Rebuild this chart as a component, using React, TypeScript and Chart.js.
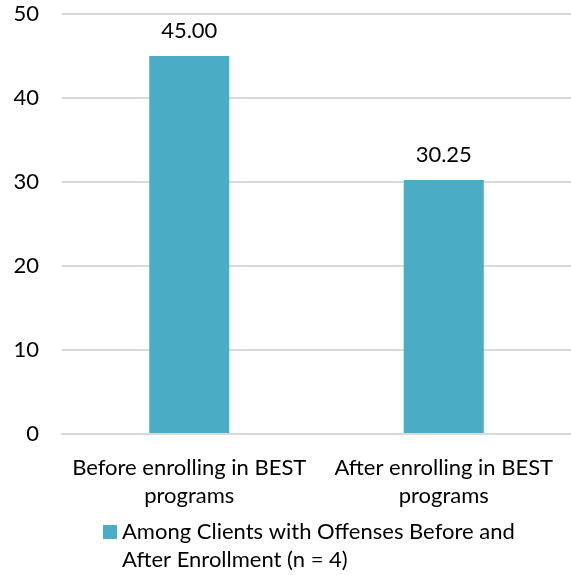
import React, { useEffect, useRef } from "react";
import { Chart, registerables } from "chart.js";

Chart.register(...registerables);

const categories: string[][] = [
  ["Before enrolling in BEST", "programs"],
  ["After enrolling in BEST", "programs"],
];
const values: number[] = [45.0, 30.25];
const seriesLabel: string[] = ["Among Clients with Offenses Before and", "After Enrollment (n = 4)"];
const yTicks: number[] = [0, 10, 20, 30, 40, 50];

const FONT = "Lato, 'Open Sans', sans-serif";
const FONT_SIZE = 22;
const BAR_COLOR = "#4BACC6";
const TEXT_COLOR = "#000000";

const dataLabelPlugin = {
  id: "dataLabels",
  afterDatasetsDraw(chart: any) {
    const ctx = chart.ctx;
    const meta = chart.getDatasetMeta(0);
    ctx.save();
    ctx.font = `${FONT_SIZE}px ${FONT}`;
    ctx.fillStyle = TEXT_COLOR;
    ctx.textAlign = "center";
    ctx.textBaseline = "middle";
    meta.data.forEach((el: any, i: number) => {
      ctx.fillText(values[i].toFixed(2), el.x, el.y - 25);
    });
    ctx.restore();
  },
};

const legendPlugin = {
  id: "customLegend",
  afterDraw(chart: any) {
    const ctx = chart.ctx;
    ctx.save();
    ctx.fillStyle = BAR_COLOR;
    ctx.fillRect(103, 525, 14, 14);
    ctx.font = `${FONT_SIZE}px ${FONT}`;
    ctx.fillStyle = TEXT_COLOR;
    ctx.textAlign = "left";
    ctx.textBaseline = "middle";
    seriesLabel.forEach((line, i) => {
      ctx.fillText(line, 122, 532 + i * 28);
    });
    ctx.restore();
  },
};

export default function App() {
  const ref = useRef<HTMLCanvasElement | null>(null);
  useEffect(() => {
    if (!ref.current) return;
    const chart = new Chart(ref.current, {
      type: "bar",
      data: {
        labels: categories,
        datasets: [
          {
            label: seriesLabel.join(" "),
            data: values,
            backgroundColor: BAR_COLOR,
            categoryPercentage: 1,
            barPercentage: 0.3145,
          },
        ],
      },
      options: {
        animation: false,
        responsive: false,
        maintainAspectRatio: false,
        layout: { padding: { top: 14, right: -3, left: 0, bottom: 0 } },
        plugins: {
          legend: { display: false },
          tooltip: { enabled: false },
        },
        scales: {
          x: {
            grid: { display: false, drawTicks: false },
            border: { display: true, color: "#d9d9d9", width: 2 },
            ticks: {
              color: TEXT_COLOR,
              font: { family: FONT, size: FONT_SIZE, lineHeight: 1.28 },
              padding: 20,
              maxRotation: 0,
              autoSkip: false,
            },
            afterFit: (scale: any) => {
              scale.height = 141;
              scale.paddingLeft = 0;
              scale.paddingRight = 0;
            },
          },
          y: {
            min: 0,
            max: 50,
            afterBuildTicks: (scale: any) => {
              scale.ticks = yTicks.map((v) => ({ value: v }));
            },
            grid: { color: "#d9d9d9", lineWidth: 2, drawTicks: false },
            border: { display: false },
            ticks: {
              color: TEXT_COLOR,
              font: { family: FONT, size: FONT_SIZE },
              padding: 23,
            },
            afterFit: (scale: any) => {
              scale.width = 62;
              scale.paddingTop = 0;
              scale.paddingBottom = 0;
            },
          },
        },
      },
      plugins: [dataLabelPlugin, legendPlugin],
    });
    return () => chart.destroy();
  }, []);
  return (
    <div style={{ position: "fixed", left: 0, top: 0, width: 571, height: 575, background: "#fff" }}>
      <canvas ref={ref} width={571} height={575} style={{ width: 571, height: 575 }} />
    </div>
  );
}
